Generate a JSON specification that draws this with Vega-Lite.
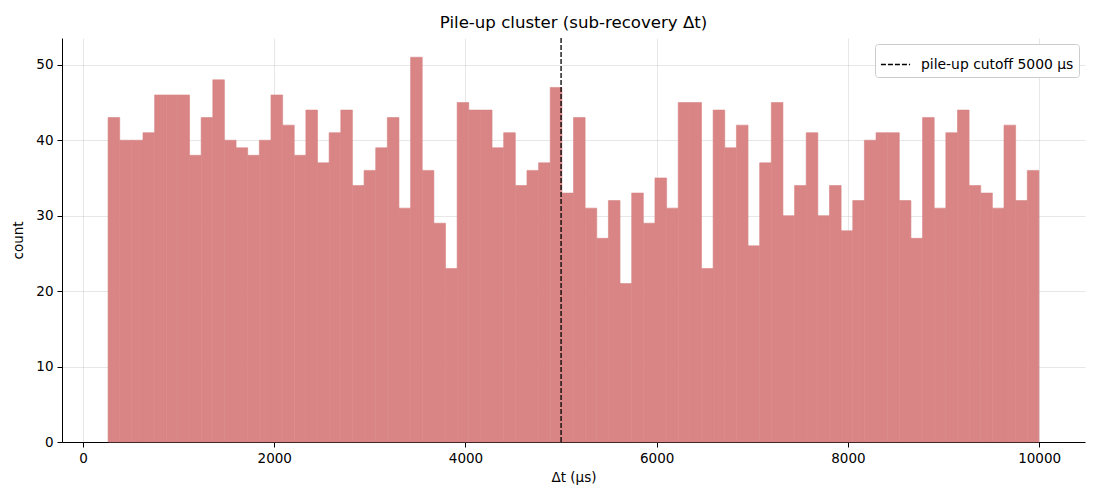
{
  "$schema": "https://vega.github.io/schema/vega-lite/v6.json",
  "autosize": {"type": "none"},
  "padding": {"left": 62, "top": 38, "right": 15, "bottom": 58},
  "width": 1023,
  "height": 404,
  "background": "white",
  "title": {
    "text": "Pile-up cluster (sub-recovery Δt)",
    "font": "DejaVu Sans",
    "fontSize": 16.6,
    "fontWeight": "normal",
    "color": "black",
    "offset": 6
  },
  "config": {
    "font": "DejaVu Sans",
    "view": {"stroke": null},
    "axis": {
      "labelFont": "DejaVu Sans",
      "labelFontSize": 13.5,
      "labelColor": "black",
      "titleFont": "DejaVu Sans",
      "titleFontSize": 13.5,
      "titleFontWeight": "normal",
      "titleColor": "black",
      "domainColor": "black",
      "tickColor": "black",
      "tickSize": 5,
      "gridColor": "#b0b0b0",
      "gridOpacity": 0.3,
      "grid": true,
      "zindex": 1
    }
  },
  "datasets": {
    "bins": [
      {"bin_start": 262.0, "bin_end": 383.7, "count": 43},
      {"bin_start": 383.7, "bin_end": 505.4, "count": 40},
      {"bin_start": 505.4, "bin_end": 627.1, "count": 40},
      {"bin_start": 627.1, "bin_end": 748.8, "count": 41},
      {"bin_start": 748.8, "bin_end": 870.5, "count": 46},
      {"bin_start": 870.5, "bin_end": 992.2, "count": 46},
      {"bin_start": 992.2, "bin_end": 1113.9, "count": 46},
      {"bin_start": 1113.9, "bin_end": 1235.6, "count": 38},
      {"bin_start": 1235.6, "bin_end": 1357.3, "count": 43},
      {"bin_start": 1357.3, "bin_end": 1479.0, "count": 48},
      {"bin_start": 1479.0, "bin_end": 1600.7, "count": 40},
      {"bin_start": 1600.7, "bin_end": 1722.4, "count": 39},
      {"bin_start": 1722.4, "bin_end": 1844.1, "count": 38},
      {"bin_start": 1844.1, "bin_end": 1965.8, "count": 40},
      {"bin_start": 1965.8, "bin_end": 2087.5, "count": 46},
      {"bin_start": 2087.5, "bin_end": 2209.2, "count": 42},
      {"bin_start": 2209.2, "bin_end": 2330.9, "count": 38},
      {"bin_start": 2330.9, "bin_end": 2452.6, "count": 44},
      {"bin_start": 2452.6, "bin_end": 2574.3, "count": 37},
      {"bin_start": 2574.3, "bin_end": 2696.0, "count": 41},
      {"bin_start": 2696.0, "bin_end": 2817.7, "count": 44},
      {"bin_start": 2817.7, "bin_end": 2939.4, "count": 34},
      {"bin_start": 2939.4, "bin_end": 3061.1, "count": 36},
      {"bin_start": 3061.1, "bin_end": 3182.8, "count": 39},
      {"bin_start": 3182.8, "bin_end": 3304.5, "count": 43},
      {"bin_start": 3304.5, "bin_end": 3426.2, "count": 31},
      {"bin_start": 3426.2, "bin_end": 3547.9, "count": 51},
      {"bin_start": 3547.9, "bin_end": 3669.6, "count": 36},
      {"bin_start": 3669.6, "bin_end": 3791.3, "count": 29},
      {"bin_start": 3791.3, "bin_end": 3913.0, "count": 23},
      {"bin_start": 3913.0, "bin_end": 4034.7, "count": 45},
      {"bin_start": 4034.7, "bin_end": 4156.4, "count": 44},
      {"bin_start": 4156.4, "bin_end": 4278.1, "count": 44},
      {"bin_start": 4278.1, "bin_end": 4399.8, "count": 39},
      {"bin_start": 4399.8, "bin_end": 4521.5, "count": 41},
      {"bin_start": 4521.5, "bin_end": 4643.2, "count": 34},
      {"bin_start": 4643.2, "bin_end": 4764.9, "count": 36},
      {"bin_start": 4764.9, "bin_end": 4886.6, "count": 37},
      {"bin_start": 4886.6, "bin_end": 5008.3, "count": 47},
      {"bin_start": 5008.3, "bin_end": 5130.0, "count": 33},
      {"bin_start": 5130.0, "bin_end": 5251.7, "count": 43},
      {"bin_start": 5251.7, "bin_end": 5373.4, "count": 31},
      {"bin_start": 5373.4, "bin_end": 5495.1, "count": 27},
      {"bin_start": 5495.1, "bin_end": 5616.8, "count": 32},
      {"bin_start": 5616.8, "bin_end": 5738.5, "count": 21},
      {"bin_start": 5738.5, "bin_end": 5860.2, "count": 33},
      {"bin_start": 5860.2, "bin_end": 5981.9, "count": 29},
      {"bin_start": 5981.9, "bin_end": 6103.6, "count": 35},
      {"bin_start": 6103.6, "bin_end": 6225.3, "count": 31},
      {"bin_start": 6225.3, "bin_end": 6347.0, "count": 45},
      {"bin_start": 6347.0, "bin_end": 6468.7, "count": 45},
      {"bin_start": 6468.7, "bin_end": 6590.4, "count": 23},
      {"bin_start": 6590.4, "bin_end": 6712.1, "count": 44},
      {"bin_start": 6712.1, "bin_end": 6833.8, "count": 39},
      {"bin_start": 6833.8, "bin_end": 6955.5, "count": 42},
      {"bin_start": 6955.5, "bin_end": 7077.2, "count": 26},
      {"bin_start": 7077.2, "bin_end": 7198.9, "count": 37},
      {"bin_start": 7198.9, "bin_end": 7320.6, "count": 45},
      {"bin_start": 7320.6, "bin_end": 7442.3, "count": 30},
      {"bin_start": 7442.3, "bin_end": 7564.0, "count": 34},
      {"bin_start": 7564.0, "bin_end": 7685.7, "count": 41},
      {"bin_start": 7685.7, "bin_end": 7807.4, "count": 30},
      {"bin_start": 7807.4, "bin_end": 7929.1, "count": 34},
      {"bin_start": 7929.1, "bin_end": 8050.8, "count": 28},
      {"bin_start": 8050.8, "bin_end": 8172.5, "count": 32},
      {"bin_start": 8172.5, "bin_end": 8294.2, "count": 40},
      {"bin_start": 8294.2, "bin_end": 8415.9, "count": 41},
      {"bin_start": 8415.9, "bin_end": 8537.6, "count": 41},
      {"bin_start": 8537.6, "bin_end": 8659.3, "count": 32},
      {"bin_start": 8659.3, "bin_end": 8781.0, "count": 27},
      {"bin_start": 8781.0, "bin_end": 8902.7, "count": 43},
      {"bin_start": 8902.7, "bin_end": 9024.4, "count": 31},
      {"bin_start": 9024.4, "bin_end": 9146.1, "count": 41},
      {"bin_start": 9146.1, "bin_end": 9267.8, "count": 44},
      {"bin_start": 9267.8, "bin_end": 9389.5, "count": 34},
      {"bin_start": 9389.5, "bin_end": 9511.2, "count": 33},
      {"bin_start": 9511.2, "bin_end": 9632.9, "count": 31},
      {"bin_start": 9632.9, "bin_end": 9754.6, "count": 42},
      {"bin_start": 9754.6, "bin_end": 9876.3, "count": 32},
      {"bin_start": 9876.3, "bin_end": 9998.0, "count": 36}
    ],
    "cutoff": [
      {"dt": 5000, "label": "pile-up cutoff 5000 µs"}
    ]
  },
  "layer": [
    {
      "data": {"name": "bins"},
      "mark": {"type": "rect", "color": "#d98585", "stroke": "#d98585", "strokeWidth": 0.6},
      "encoding": {
        "x": {
          "field": "bin_start",
          "type": "quantitative",
          "title": "Δt (µs)",
          "scale": {"domain": [-220, 10480], "nice": false, "zero": false},
          "axis": {"values": [0, 2000, 4000, 6000, 8000, 10000], "format": "d", "labelPadding": 4, "titlePadding": 6}
        },
        "x2": {"field": "bin_end"},
        "y": {
          "field": "count",
          "type": "quantitative",
          "title": "count",
          "scale": {"domain": [0, 53.55], "nice": false},
          "axis": {"values": [0, 10, 20, 30, 40, 50], "labelPadding": 4, "titlePadding": 10}
        },
        "y2": {"datum": 0}
      }
    },
    {
      "data": {"name": "cutoff"},
      "mark": {"type": "rule", "color": "black", "strokeWidth": 1.3},
      "encoding": {
        "x": {"field": "dt", "type": "quantitative"},
        "strokeDash": {
          "field": "label",
          "type": "nominal",
          "scale": {"range": [[5, 2]]},
          "legend": {
            "title": null,
            "orient": "top-right",
            "offset": 6,
            "fillColor": "white",
            "strokeColor": "#cccccc",
            "cornerRadius": 3,
            "padding": 5,
            "labelFont": "DejaVu Sans",
            "labelFontSize": 13.9,
            "labelColor": "black",
            "labelOffset": 10,
            "symbolType": "stroke",
            "symbolSize": 850,
            "symbolStrokeColor": "black",
            "symbolStrokeWidth": 1.3,
            "zindex": 2
          }
        }
      }
    }
  ]
}
